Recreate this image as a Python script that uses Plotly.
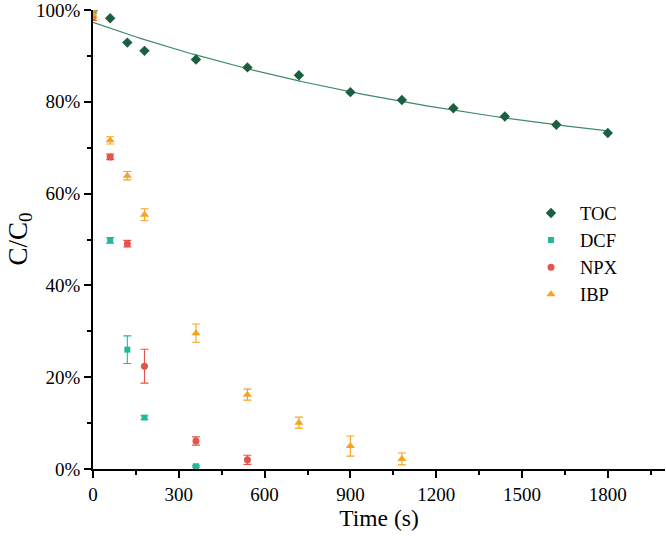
import numpy as np
import plotly.graph_objects as go

# ---- data ----
time_s = [0, 60, 120, 180, 360, 540, 720, 900, 1080, 1260, 1440, 1620, 1800]
toc = [1.0, 0.982, 0.929, 0.911, 0.892, 0.875, 0.858, 0.821, 0.804, 0.786, 0.768, 0.750, 0.732]

dcf_t = [0, 60, 120, 180, 360]
dcf = [1.0, 0.498, 0.260, 0.112, 0.006]
dcf_err = [0.005, 0.006, 0.030, 0.004, 0.002]

npx_t = [0, 60, 120, 180, 360, 540]
npx = [0.985, 0.680, 0.491, 0.224, 0.061, 0.020]
npx_err = [0.008, 0.006, 0.007, 0.037, 0.009, 0.010]

ibp_t = [0, 60, 120, 180, 360, 540, 720, 900, 1080]
ibp = [0.990, 0.716, 0.639, 0.554, 0.296, 0.162, 0.101, 0.050, 0.022]
ibp_err = [0.008, 0.008, 0.009, 0.013, 0.020, 0.012, 0.012, 0.022, 0.013]

# TOC fit (C = A + B*exp(-k t))
FIT_A, FIT_B, FIT_K = 0.627, 0.346, 0.000639
fit_t = np.linspace(0, 1800, 200)
fit_y = FIT_A + FIT_B * np.exp(-FIT_K * fit_t)

x_ticks = [0, 300, 600, 900, 1200, 1500, 1800]

FONT = "Liberation Serif"
C_TOC = "#1b5e40"
C_FIT = "#3f8a6b"
C_DCF = "#22b99a"
C_NPX = "#e5534b"
C_IBP = "#f7a31e"

fig = go.Figure()

fig.add_trace(go.Scatter(x=fit_t, y=fit_y, mode="lines",
                         line=dict(color=C_FIT, width=1.2), showlegend=False,
                         hoverinfo="skip"))
fig.add_trace(go.Scatter(x=time_s, y=toc, mode="markers", name="TOC",
                         marker=dict(symbol="diamond", size=8, color=C_TOC)))
fig.add_trace(go.Scatter(x=dcf_t, y=dcf, mode="markers", name="DCF",
                         marker=dict(symbol="square", size=6, color=C_DCF),
                         error_y=dict(type="data", array=dcf_err, color=C_DCF,
                                      thickness=1.1, width=4)))
fig.add_trace(go.Scatter(x=npx_t, y=npx, mode="markers", name="NPX",
                         marker=dict(symbol="circle", size=7, color=C_NPX),
                         error_y=dict(type="data", array=npx_err, color=C_NPX,
                                      thickness=1.1, width=4)))
fig.add_trace(go.Scatter(x=ibp_t, y=ibp, mode="markers", name="IBP",
                         marker=dict(symbol="triangle-up", size=8, color=C_IBP),
                         error_y=dict(type="data", array=ibp_err, color=C_IBP,
                                      thickness=1.1, width=4)))

fig.update_layout(
    width=666, height=542,
    margin=dict(l=93, r=1, t=10, b=73),
    plot_bgcolor="white", paper_bgcolor="white",
    font=dict(family=FONT, color="black", size=19),
    legend=dict(x=0.75, y=0.598, xanchor="left", yanchor="top",
                font=dict(family=FONT, size=18.5), bgcolor="rgba(0,0,0,0)",
                tracegroupgap=0, itemwidth=48),
    annotations=[dict(text="C/C<sub>0</sub>", textangle=-90, xref="paper", yref="paper",
                      x=0, y=0.5, xanchor="center", yanchor="middle", xshift=-74,
                      showarrow=False, font=dict(family=FONT, size=27))],
)
fig.update_xaxes(
    range=[0, 2000], tickvals=x_ticks, ticktext=[str(v) for v in x_ticks],
    automargin=False, ticklabeloverflow="allow",
    showline=True, linecolor="black", linewidth=1.5, showgrid=False, zeroline=False,
    ticks="outside", ticklen=7, tickwidth=1.5, tickcolor="black",
    minor=dict(dtick=150, tick0=0, ticks="outside", ticklen=4, tickwidth=1.5, tickcolor="black"),
    tickfont=dict(size=19),
    title=dict(text="Time (s)", font=dict(size=23.5), standoff=5),
)
fig.update_yaxes(
    range=[0, 1.0], dtick=0.2, tickformat=".0%",
    automargin=False, ticklabeloverflow="allow",
    showline=True, linecolor="black", linewidth=1.5, showgrid=False, zeroline=False,
    ticks="outside", ticklen=7, tickwidth=1.5, tickcolor="black",
    minor=dict(dtick=0.1, ticks="outside", ticklen=4, tickwidth=1.5, tickcolor="black"),
    tickfont=dict(size=19),
)

fig.write_html("out.html", config={"displayModeBar": False},
               post_script="document.body.style.margin='0';")
